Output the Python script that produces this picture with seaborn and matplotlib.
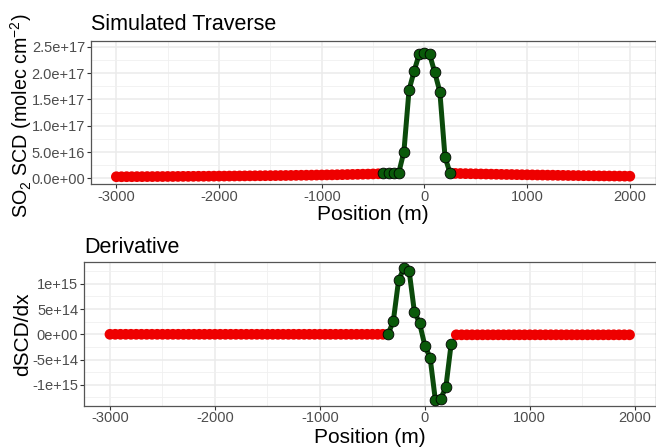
import numpy as np
import pandas as pd
import matplotlib
matplotlib.use("Agg")
import matplotlib.pyplot as plt
import seaborn as sns
from matplotlib.ticker import FixedLocator

# ---------------- data (values in units of 1e15) ----------------
# Simulated traverse, positions -3000 .. 2000 m every 50 m
trav_pos = np.arange(-3000, 2001, 50)
trav_bg_left = [3.0, 3.0, 3.1, 3.1, 3.2, 3.2, 3.3, 3.3, 3.4, 3.4,
                3.5, 3.5, 3.6, 3.7, 3.7, 3.8, 3.9, 3.9, 4.0, 4.1,
                4.2, 4.2, 4.3, 4.4, 4.5, 4.6, 4.7, 4.8, 4.9, 5.0,
                5.1, 5.2, 5.3, 5.4, 5.5, 5.7, 5.8, 5.9, 6.0, 6.2,
                6.3, 6.5, 6.6, 6.8, 7.0, 7.2, 7.4, 7.6, 7.8, 8.0,
                8.3, 8.6]
trav_plume = [9.5, 9.5, 9.6, 10.6, 50.6, 168.0, 204.0, 237.0, 238.0, 236.0,
              201.5, 164.6, 41.0, 9.5]
trav_bg_right = [9.3, 9.1, 8.9, 8.7, 8.5, 8.3, 8.1, 7.9, 7.7, 7.5,
                 7.3, 7.2, 7.0, 6.8, 6.7, 6.5, 6.3, 6.2, 6.0, 5.9,
                 5.7, 5.6, 5.4, 5.3, 5.2, 5.0, 4.9, 4.8, 4.6, 4.5,
                 4.4, 4.3, 4.2, 4.1, 4.0]

# Derivative, positions -3000 .. 1950 m every 50 m
deriv_pos = np.arange(-3000, 1951, 50)
deriv_bg_left = [0.0, 0.0, 0.0, 0.0, 0.0, 0.0, 0.0, 0.0, 0.0, 0.0,
                 0.0, 0.0, 0.0, 0.0, 0.0, 0.0, 0.0, 0.0, 0.0, 0.0,
                 0.0, 0.0, 0.0, 0.0, 0.0, 0.0, 0.0, 0.0, 0.0, 0.0,
                 0.0, 0.0, 0.0, 0.0, 0.0, 0.0, 0.0, 0.0, 0.0, 0.0,
                 0.0, 0.0, 0.0, 0.0, 0.0, 0.0, 0.0, 0.0, 0.0, 0.0,
                 0.0, 0.0, 0.0]
deriv_plume = [0.0, 0.27, 1.075, 1.307, 1.26, 0.45, 0.22, -0.226, -0.463,
               -1.30, -1.28, -1.05, -0.198]
deriv_bg_right = [-0.01, -0.01, -0.01, -0.01, -0.01, -0.01, -0.01, -0.01, -0.01, -0.01,
                  -0.01, -0.01, -0.01, -0.01, -0.01, -0.01, -0.01, -0.01, -0.01, -0.01,
                  -0.01, -0.01, -0.01, -0.01, -0.01, -0.01, -0.01, -0.01, -0.01, -0.01,
                  -0.01, -0.01, -0.01, -0.01]

top_yticks = [0, 5e16, 1e17, 1.5e17, 2e17, 2.5e17]
top_ylabels = ["0.0e+00", "5.0e+16", "1.0e+17", "1.5e+17", "2.0e+17", "2.5e+17"]
bot_yticks = [-1e15, -5e14, 0, 5e14, 1e15]
bot_ylabels = ["-1e+15", "-5e+14", "0e+00", "5e+14", "1e+15"]
xticks = [-3000, -2000, -1000, 0, 1000, 2000]
xlabels = ["-3000", "-2000", "-1000", "0", "1000", "2000"]

# ---------------- tables ----------------
def build(pos, left, plume, right):
    vals = np.array(left + plume + right) * 1e15
    seg = ["bg"] * len(left) + ["plume"] * len(plume) + ["bg"] * len(right)
    return pd.DataFrame({"pos": pos, "val": vals, "seg": seg})

trav = build(trav_pos, trav_bg_left, trav_plume, trav_bg_right)
deriv = build(deriv_pos, deriv_bg_left, deriv_plume, deriv_bg_right)

# ---------------- style ----------------
sns.set_theme(style="white")
plt.rcParams['font.family'] = ['Liberation Sans', 'DejaVu Sans']
plt.rcParams['mathtext.fontset'] = 'custom'
plt.rcParams['mathtext.rm'] = 'Liberation Sans'
plt.rcParams['mathtext.it'] = 'Liberation Sans:italic'
plt.rcParams['mathtext.default'] = 'regular'

W, H = 656, 447
fig = plt.figure(figsize=(W / 100, H / 100), dpi=100)
fig.patch.set_facecolor("white")

RED = "#EE0000"
GREEN_FILL = "#0A5A0A"
GREEN_LINE = "#0B4A0B"


def px_axes(left, top, right, bottom):
    return fig.add_axes([left / W, 1 - bottom / H, (right - left) / W, (bottom - top) / H])


def draw(ax, df):
    bg = df[df.seg == "bg"]
    pl = df[df.seg == "plume"]
    sns.scatterplot(data=bg, x="pos", y="val", color=RED, s=60, edgecolor="none",
                    linewidth=0, ax=ax, zorder=3, legend=False)
    sns.lineplot(data=pl, x="pos", y="val", color=GREEN_LINE, linewidth=3.6,
                 ax=ax, zorder=4, legend=False, sort=True)
    sns.scatterplot(data=pl, x="pos", y="val", color=GREEN_FILL, s=60,
                    edgecolor="black", linewidth=0.6, ax=ax, zorder=5, legend=False)


def style(ax, xlim, ylim, yticks, ylabels, yminor, xminor):
    ax.set_xlim(*xlim)
    ax.set_ylim(*ylim)
    ax.set_xticks(xticks, xlabels)
    ax.set_yticks(yticks, ylabels)
    ax.xaxis.set_minor_locator(FixedLocator(xminor))
    ax.yaxis.set_minor_locator(FixedLocator(yminor))
    ax.set_facecolor("white")
    ax.grid(which="major", color="#EBEBEB", linewidth=1.1, zorder=0)
    ax.grid(which="minor", color="#F0F0F0", linewidth=0.6, zorder=0)
    ax.set_axisbelow(True)
    for sp in ax.spines.values():
        sp.set_color("#555555")
        sp.set_linewidth(0.9)
    ax.tick_params(which="major", length=2.6, width=0.8, color="#333333",
                   labelcolor="#4D4D4D", labelsize=10.5, pad=1.5,
                   bottom=True, left=True)
    ax.tick_params(which="minor", length=0)


# Top panel
ax1 = px_axes(90.7, 40.7, 655.5, 184)
draw(ax1, trav)
style(ax1, (-3250, 2250), (-1.08e16, 2.616e17), top_yticks, top_ylabels,
      [2.5e16, 7.5e16, 1.25e17, 1.75e17, 2.25e17], [-2500, -1500, -500, 500, 1500])
ax1.set_title("Simulated Traverse", loc="left", fontsize=15.5, pad=7.5, color="black")
ax1.set_xlabel("Position (m)", fontsize=15, color="black")
ax1.xaxis.label.set_va("baseline")
ax1.xaxis.set_label_coords(0.5, -(220 - 184) / (184 - 40.7))
ax1.set_ylabel(r"SO$_2$ SCD (molec cm$^{-2}$)", fontsize=14.2, color="black")
ax1.yaxis.label.set_va("baseline")
ax1.yaxis.set_label_coords((28.3 - 90.7) / (655.5 - 90.7), 0.48)

# Bottom panel
ax2 = px_axes(84, 262.3, 655.5, 405.7)
draw(ax2, deriv)
style(ax2, (-3247.5, 2197.5), (-1.414e15, 1.426e15), bot_yticks, bot_ylabels,
      [-1.25e15, -7.5e14, -2.5e14, 2.5e14, 7.5e14, 1.25e15], [-2500, -1500, -500, 500, 1500])
ax2.set_title("Derivative", loc="left", fontsize=15.5, pad=6.5, color="black")
ax2.set_xlabel("Position (m)", fontsize=15, color="black")
ax2.xaxis.label.set_va("baseline")
ax2.xaxis.set_label_coords(0.5, -(443 - 405.7) / (405.7 - 262.3))
ax2.set_ylabel("dSCD/dx", fontsize=15, color="black")
ax2.yaxis.label.set_va("baseline")
ax2.yaxis.set_label_coords((28.3 - 84) / (655.5 - 84), 0.5)

fig.savefig("out.png", dpi=100, facecolor="white")
